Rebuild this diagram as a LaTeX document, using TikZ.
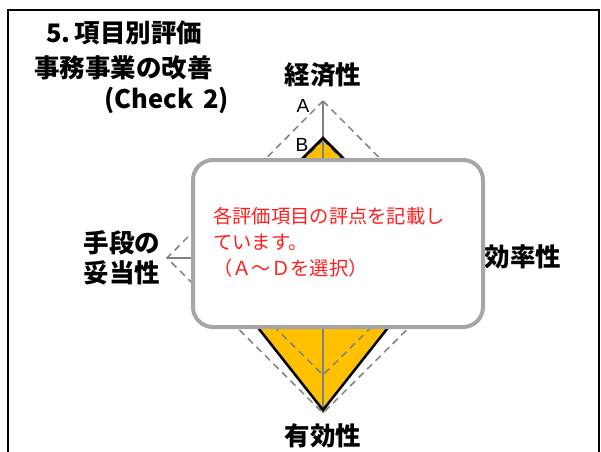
\documentclass[tikz,border=0pt]{standalone}
\usepackage{fontspec}
\newfontfamily\jp{Noto Sans CJK JP}
\newfontfamily\lat{Liberation Sans}
\definecolor{gridgray}{HTML}{808080}
\definecolor{boxgray}{HTML}{A6A6A6}
\definecolor{yel}{HTML}{FFC000}
\definecolor{redtxt}{HTML}{FF1F1F}
\tikzset{
  title/.style={font=\jp\bfseries\fontsize{25.5}{30}\selectfont, inner sep=0pt, anchor=west},
  axislabel/.style={font=\jp\bfseries\fontsize{25.5}{30}\selectfont, inner sep=0pt, align=center},
  grade/.style={font=\lat\fontsize{19}{22}\selectfont, inner sep=0pt},
  griddash/.style={draw=gridgray, line width=1.5pt, dash pattern=on 7pt off 5pt},
  axisline/.style={draw=gridgray, line width=1.5pt},
  notebox/.style={draw=boxgray, line width=4pt, fill=white, rounded corners=20pt},
  redtext/.style={font=\jp\fontsize{19.3}{26}\selectfont, text=redtxt, inner sep=0pt, anchor=north west, align=left}
}
\begin{document}
\begin{tikzpicture}[x=1pt,y=-1pt]
\useasboundingbox (0,0) rectangle (601,451);
% frame
\draw[line width=2pt] (8,460) -- (8,10) -- (599,10) -- (599,460);
% chart coordinates
\coordinate (C) at (323,258);
\coordinate (At) at (323,101);
\coordinate (Ar) at (479,258);
\coordinate (Ab) at (323,413);
\coordinate (Al) at (167,258);
\coordinate (Bt) at (323,140);
\coordinate (Br) at (441,258);
\coordinate (Bb) at (323,375);
\coordinate (Bl) at (205,258);
\coordinate (Pt) at (323,138);
\coordinate (Pr) at (443,258);
\coordinate (Pb) at (323,410);
\coordinate (Pl) at (203,258);
% evaluated polygon
\fill[yel] (Pt) -- (Pr) -- (Pb) -- (Pl) -- cycle;
% grid
\draw[griddash] (At) -- (Ar) -- (Ab) -- (Al) -- cycle;
\draw[griddash] (Bt) -- (Br) -- (Bb) -- (Bl) -- cycle;
% axes
\draw[axisline] (C) -- (At);
\draw[axisline] (C) -- (Ab);
\draw[axisline] (C) -- (Al);
\draw[axisline] (C) -- (Ar);
% polygon outline
\draw[line width=2.5pt, line join=miter] (Pt) -- (Pr) -- (Pb) -- (Pl) -- cycle;
% grade labels
\node[grade] (gA) at (303,106) {A};
\node[grade] (gB) at (302,145) {B};
% titles
\node[title] (t1) at (46,33) {5.\,項目別評価};
\node[title] (t2) at (34,68) {事務事業の改善};
\node[title] (t3) at (104,100) {(Check\, 2)};
% axis labels
\node[axislabel] (lTop) at (323,75) {経済性};
\node[axislabel] (lBot) at (323,436) {有効性};
\node[axislabel] (lRight) at (523,257) {効率性};
\node[axislabel] (lLeft) at (122,258) {手段の\\妥当性};
% note box
\draw[notebox] (193,160) rectangle (483,327);
\node[redtext] (note) at (213,207) {各評価項目の評点を記載し\\ています。\\（Ａ～Ｄを選択）};
\end{tikzpicture}
\end{document}
